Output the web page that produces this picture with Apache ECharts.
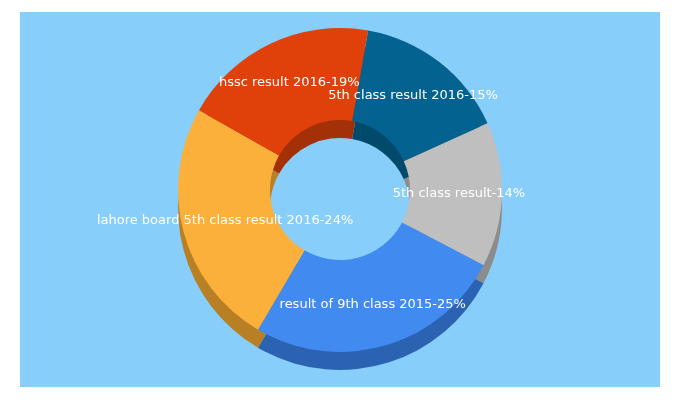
<!DOCTYPE html>
<html>
<head>
<meta charset="utf-8">
<script src="https://cdn.jsdelivr.net/npm/echarts@6/dist/echarts.min.js"></script>
<style>
  body { margin: 0; background: #fff; }
  #chart { position: absolute; left: 20px; top: 12px; width: 640px; height: 375px; }
</style>
</head>
<body>
<div id="chart"></div>
<script>
// keywords and their share, clockwise from the top
const names = ['5th class result 2016', '5th class result', 'result of 9th class 2015', 'lahore board 5th class result 2016', 'hssc result 2016'];
const shares = [15, 14, 25, 24, 19];
const topColors = ['#03628f', '#bfbfbf', '#418bf0', '#fbb03b', '#e0400a'];
const sideColors = ['#024a6b', '#8c8c8c', '#2c62b2', '#b97f25', '#a33006'];

const chart = echarts.init(document.getElementById('chart'));

function slices(colors) {
  return names.map((n, i) => ({ name: n, value: shares[i], itemStyle: { color: colors[i] } }));
}

chart.setOption({
  backgroundColor: '#87cefa',
  animation: false,
  series: [
    {
      // depth of the ring
      type: 'pie',
      silent: true,
      center: [320, 196],
      radius: [70, 162],
      startAngle: 80,
      label: { show: false },
      labelLine: { show: false },
      data: slices(sideColors)
    },
    {
      type: 'pie',
      center: [320, 178],
      radius: [70, 162],
      startAngle: 80,
      label: {
        show: true,
        position: 'inside',
        color: '#fff',
        fontSize: 13,
        fontFamily: 'DejaVu Sans',
        formatter: p => p.name + '-' + p.value + '%'
      },
      labelLine: { show: false },
      data: slices(topColors)
    }
  ]
});
</script>
</body>
</html>
